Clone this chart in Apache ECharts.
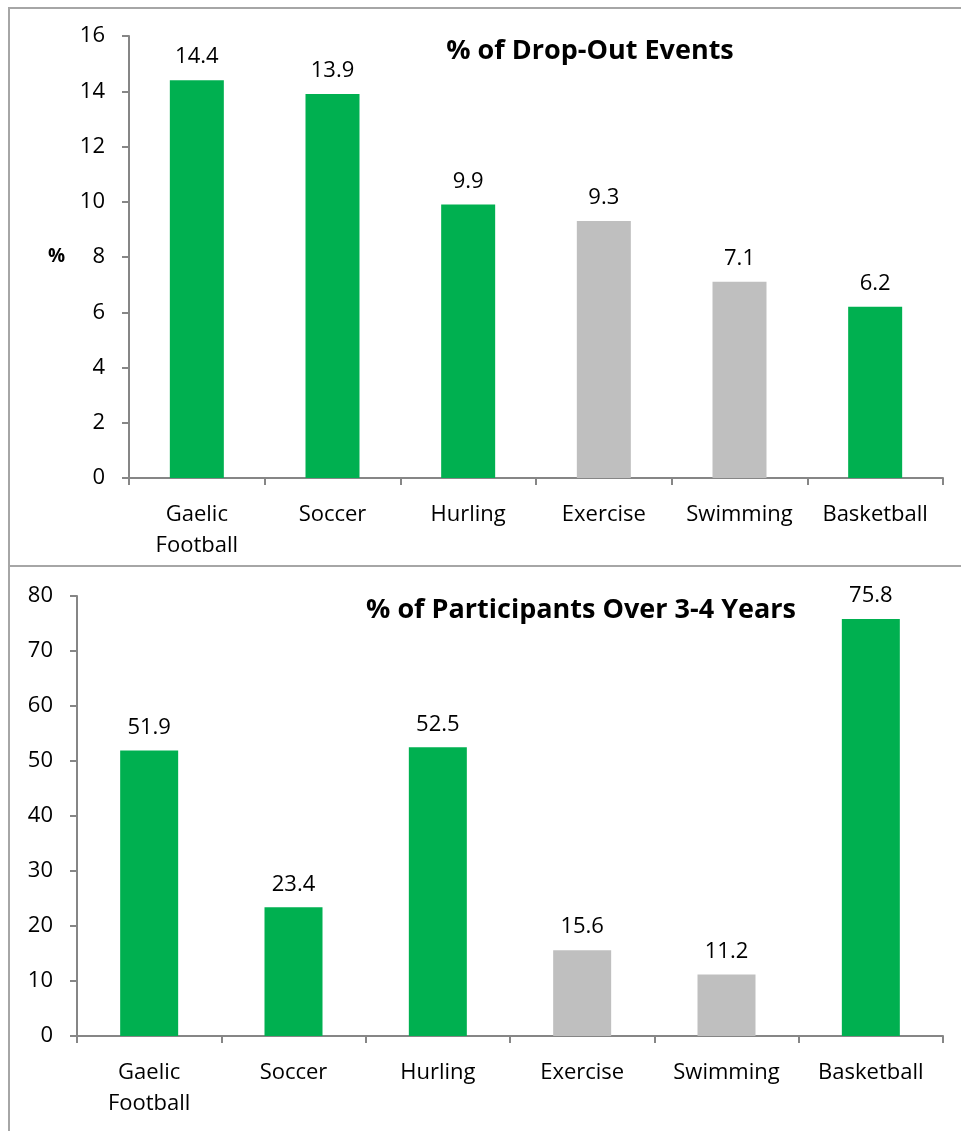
<!DOCTYPE html>
<html>
<head>
<meta charset="utf-8">
<script src="https://cdn.jsdelivr.net/npm/echarts@6/dist/echarts.min.js"></script>
<style>
  html, body { margin: 0; padding: 0; background: #fff; }
  #chart { width: 961px; height: 1131px; }
</style>
</head>
<body>
<div id="chart"></div>
<script>
// Sports categories shared by both panels
const categories = ['Gaelic\nFootball', 'Soccer', 'Hurling', 'Exercise', 'Swimming', 'Basketball'];
// Percentage of drop-out events per sport
const dropOutValues = [14.4, 13.9, 9.9, 9.3, 7.1, 6.2];
// Percentage of participants staying over 3-4 years
const participantValues = [51.9, 23.4, 52.5, 15.6, 11.2, 75.8];
// Team sports in green, individual activities in grey
const isTeamSport = [true, true, true, false, false, true];

const titles = ['% of Drop-Out Events', '% of Participants Over 3-4 Years'];

const GREEN = '#00B050';
const GREY = '#BFBFBF';
const AXIS = '#868686';
const FONT = '"Open Sans", Lato, sans-serif';

function barData(values) {
  return values.map((v, i) => ({
    value: v,
    itemStyle: { color: isTeamSport[i] ? GREEN : GREY }
  }));
}

const chart = echarts.init(document.getElementById('chart'), null, { renderer: 'canvas' });

const xAxisBase = {
  type: 'category',
  data: categories,
  axisLine: { lineStyle: { color: AXIS, width: 2 } },
  axisTick: { show: true, length: 7, lineStyle: { color: AXIS, width: 2 } },
  axisLabel: { color: '#000', fontSize: 22, fontFamily: FONT, lineHeight: 31, margin: 21, interval: 0 }
};
const yAxisBase = {
  type: 'value',
  axisLine: { show: true, lineStyle: { color: AXIS, width: 2 } },
  axisTick: { show: true, length: 7, lineStyle: { color: AXIS, width: 2 } },
  splitLine: { show: false },
  axisLabel: { color: '#000', fontSize: 22, fontFamily: FONT, margin: 24 }
};
const labelBase = {
  show: true,
  position: 'top',
  distance: 12,
  color: '#000',
  fontSize: 22,
  fontFamily: FONT,
  formatter: p => p.value.toFixed(1)
};

chart.setOption({
  animation: false,
  backgroundColor: '#fff',
  title: [
    { text: titles[0], left: 585, top: 33, textAlign: 'center',
      textStyle: { fontSize: 27, fontWeight: 'bold', fontFamily: FONT, color: '#000' } },
    { text: titles[1], left: 576, top: 592, textAlign: 'center',
      textStyle: { fontSize: 27, fontWeight: 'bold', fontFamily: FONT, color: '#000' } }
  ],
  grid: [
    { left: 129, top: 36, width: 814, height: 442 },
    { left: 77, top: 596, width: 866, height: 440 }
  ],
  xAxis: [
    Object.assign({ gridIndex: 0 }, xAxisBase),
    Object.assign({ gridIndex: 1 }, xAxisBase)
  ],
  yAxis: [
    Object.assign({ gridIndex: 0, min: 0, max: 16, interval: 2,
      name: '%', nameLocation: 'middle', nameGap: 64, nameRotate: 0,
      nameTextStyle: { color: '#000', fontSize: 19, fontWeight: 'bold', fontFamily: FONT } }, yAxisBase),
    Object.assign({ gridIndex: 1, min: 0, max: 80, interval: 10 }, yAxisBase)
  ],
  series: [
    { type: 'bar', xAxisIndex: 0, yAxisIndex: 0, barWidth: 54,
      data: barData(dropOutValues), label: labelBase },
    { type: 'bar', xAxisIndex: 1, yAxisIndex: 1, barWidth: 58,
      data: barData(participantValues), label: labelBase }
  ],
  graphic: [
    // panel frames
    { type: 'rect', shape: { x: 9, y: 8, width: 970, height: 558 },
      style: { fill: 'none', stroke: '#A6A6A6', lineWidth: 2 }, z: -1 },
    { type: 'rect', shape: { x: 9, y: 566, width: 970, height: 580 },
      style: { fill: 'none', stroke: '#A6A6A6', lineWidth: 2 }, z: -1 }
  ]
});
</script>
</body>
</html>
